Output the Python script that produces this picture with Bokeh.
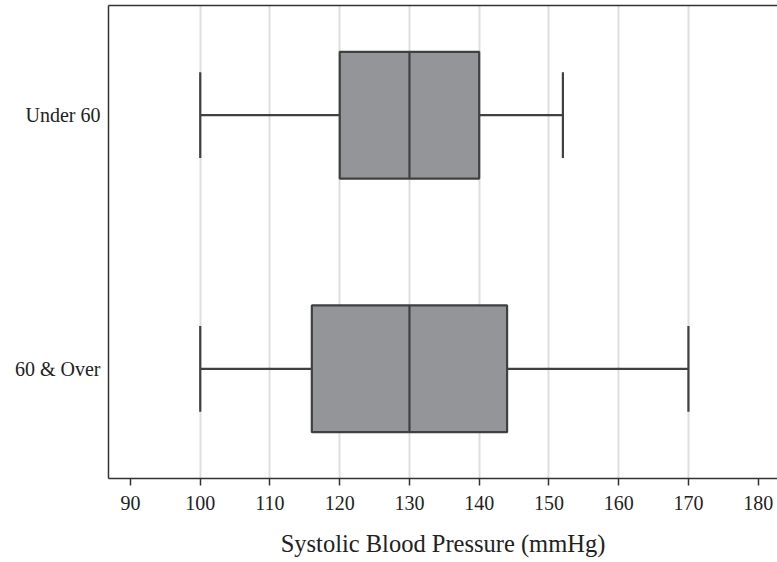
from bokeh.plotting import figure
from bokeh.models import Range1d, FixedTicker, LinearAxis
from bokeh.embed import file_html
from bokeh.resources import INLINE

# Data
groups = ["60 & Over", "Under 60"]
positions = [1, 2]
whisker_low = [100, 100]
q1 = [116, 120]
median = [130, 130]
q3 = [144, 140]
whisker_high = [170, 152]
x_ticks = [90, 100, 110, 120, 130, 140, 150, 160, 170, 180]
grid_ticks = [100, 110, 120, 130, 140, 150, 160, 170]

BOX_H = 0.5
CAP_H = 0.338
EDGE = "#404040"
FILL = "#939598"
FONT = "Liberation Serif"

p = figure(width=777, height=562, output_backend="svg", toolbar_location=None,
           x_range=Range1d(86.846, 182.77), y_range=Range1d(0.5674, 2.4326),
           min_border_left=108, min_border_right=0, min_border_top=5, min_border_bottom=84)

p.outline_line_color = None
p.background_fill_color = "white"

# grid
p.ygrid.grid_line_color = None
p.xgrid.ticker = FixedTicker(ticks=grid_ticks)
p.xgrid.grid_line_color = "#dedede"
p.xgrid.grid_line_width = 2

# x axis
p.xaxis.ticker = FixedTicker(ticks=x_ticks)
p.xaxis.axis_label = "Systolic Blood Pressure (mmHg)"
p.xaxis.axis_label_text_font = FONT
p.xaxis.axis_label_text_font_style = "normal"
p.xaxis.axis_label_text_font_size = "24.5px"
p.xaxis.axis_label_text_color = "#222222"
p.xaxis.axis_label_standoff = 17
p.xaxis.major_label_text_font = FONT
p.xaxis.major_label_text_font_size = "20px"
p.xaxis.major_label_text_color = "#222222"
p.xaxis.major_label_standoff = 10
p.xaxis.major_tick_out = 7
p.xaxis.major_tick_in = 0
p.xaxis.minor_tick_line_color = None
p.xaxis.axis_line_width = 1.5
p.xaxis.axis_line_color = "#333333"
p.xaxis.major_tick_line_color = "#333333"
p.xaxis.major_tick_line_width = 1.5

# y axis
p.yaxis.ticker = FixedTicker(ticks=positions)
p.yaxis.major_label_overrides = {pos: g for pos, g in zip(positions, groups)}
p.yaxis.major_label_text_font = FONT
p.yaxis.major_label_text_font_size = "20px"
p.yaxis.major_label_text_color = "#222222"
p.yaxis.major_label_standoff = 8
p.yaxis.major_tick_out = 0
p.yaxis.major_tick_in = 0
p.yaxis.major_tick_line_color = None
p.yaxis.minor_tick_line_color = None
p.yaxis.axis_line_width = 1.5
p.yaxis.axis_line_color = "#333333"

# top border as an axis with no ticks or labels
top = LinearAxis(ticker=FixedTicker(ticks=[]), major_tick_line_color=None,
                 minor_tick_line_color=None, major_label_text_font_size="0px",
                 major_tick_out=0, major_tick_in=0, major_label_standoff=0,
                 axis_line_color="#333333", axis_line_width=1.5)
p.add_layout(top, "above")

# boxes
ys = positions
p.hbar(y=ys, left=q1, right=q3, height=BOX_H, fill_color=FILL,
       line_color=EDGE, line_width=2.2)
# medians
p.segment(x0=median, y0=[y - BOX_H / 2 for y in ys], x1=median,
          y1=[y + BOX_H / 2 for y in ys], line_color=EDGE, line_width=2.2)
# whiskers
p.segment(x0=whisker_low, y0=ys, x1=q1, y1=ys, line_color=EDGE, line_width=2.2)
p.segment(x0=q3, y0=ys, x1=whisker_high, y1=ys, line_color=EDGE, line_width=2.2)
# caps
p.segment(x0=whisker_low, y0=[y - CAP_H / 2 for y in ys], x1=whisker_low,
          y1=[y + CAP_H / 2 for y in ys], line_color=EDGE, line_width=2.2)
p.segment(x0=whisker_high, y0=[y - CAP_H / 2 for y in ys], x1=whisker_high,
          y1=[y + CAP_H / 2 for y in ys], line_color=EDGE, line_width=2.2)

open("out.html", "w").write(file_html(p, INLINE))
